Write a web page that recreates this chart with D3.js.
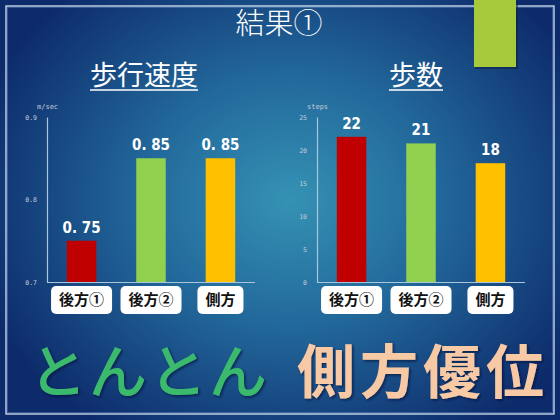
<!DOCTYPE html>
<html><head><meta charset="utf-8">
<script src="https://cdn.jsdelivr.net/npm/d3@7"></script>
<style>html,body{margin:0;padding:0;overflow:hidden;background:#0f2e6e}</style>
</head><body>
<svg id="c" width="560" height="420"></svg>
<script>
const categories = ["後方①", "後方②", "側方"];
const speedValues = [0.75, 0.85, 0.85];
const speedLabels = ["0. 75", "0. 85", "0. 85"];
const speedTicks = [0.7, 0.8, 0.9];
const stepValues = [22, 21, 18];
const stepLabels = ["22", "21", "18"];
const stepTicks = [0, 5, 10, 15, 20, 25];
const barColors = ["#c00000", "#92d050", "#ffc000"];

const svg = d3.select("#c");
const defs = svg.append("defs");
const grad = defs.append("radialGradient").attr("id", "bg")
  .attr("gradientUnits", "userSpaceOnUse")
  .attr("cx", 290).attr("cy", 200).attr("r", 330)
  .attr("gradientTransform", "translate(290,200) scale(1,0.85) translate(-290,-200)");
grad.append("stop").attr("offset", "0").attr("stop-color", "#3592b4");
grad.append("stop").attr("offset", "0.45").attr("stop-color", "#22689b");
grad.append("stop").attr("offset", "1").attr("stop-color", "#0d2a6a");
svg.append("rect").attr("width", 560).attr("height", 420).attr("fill", "url(#bg)");

const sh = defs.append("filter").attr("id", "sh").attr("x", "-10%").attr("y", "-10%")
  .attr("width", "130%").attr("height", "130%");
sh.append("feDropShadow").attr("dx", 1.5).attr("dy", 1.5).attr("stdDeviation", 1)
  .attr("flood-color", "#06163a").attr("flood-opacity", 0.7);

// frame
svg.append("rect").attr("x", 6).attr("y", 6).attr("width", 548).attr("height", 408)
  .attr("fill", "none").attr("stroke", "#d6e4f2").attr("stroke-width", 1.3);
svg.append("rect").attr("x", 7.5).attr("y", 7.5).attr("width", 545).attr("height", 405)
  .attr("fill", "none").attr("stroke", "#7fa6d0").attr("stroke-width", 0.6).attr("opacity", 0.6);

// green accent
svg.append("rect").attr("x", 475).attr("y", 1).attr("width", 43).attr("height", 68)
  .attr("fill", "#0a1e40").attr("opacity", 0.5);
svg.append("rect").attr("x", 474).attr("y", 0).attr("width", 42).attr("height", 67)
  .attr("fill", "#a6ca3b");

const jp = "'Noto Sans CJK JP', 'Noto Sans', sans-serif";

svg.append("text").attr("x", 279).attr("y", 34).attr("text-anchor", "middle")
  .attr("font-family", jp).attr("font-weight", 300).attr("font-size", 29).attr("fill", "#ffffff").text("結果①");

function subTitle(cx, txt) {
  const t = svg.append("text").attr("x", cx).attr("y", 85).attr("text-anchor", "middle")
    .attr("font-family", jp).attr("font-size", 27).attr("fill", "#ffffff").text(txt);
  const w = t.node().getComputedTextLength();
  svg.append("line").attr("x1", cx - w / 2).attr("x2", cx + w / 2)
    .attr("y1", 90).attr("y2", 90).attr("stroke", "#ffffff").attr("stroke-width", 1.5);
}
subTitle(144, "歩行速度");
subTitle(416, "歩数");

function chart(x0, x1, yDomain, ticks, unit, values, labels, fmt) {
  const x = d3.scaleBand().domain(categories).range([x0, x1])
    .paddingInner(0.575).paddingOuter(0.285);
  const y = d3.scaleLinear().domain(yDomain).range([282, 117]);
  const g = svg.append("g");
  const ax = g.append("g").attr("transform", `translate(${x0},0)`)
    .call(d3.axisLeft(y).tickValues(ticks).tickSize(0).tickPadding(10).tickFormat(fmt));
  ax.select(".domain").attr("stroke", "#a9c6da").attr("stroke-width", 1.2);
  ax.selectAll("text").attr("fill", "#c4ccd6").attr("font-size", 6.5)
    .attr("font-family", "'DejaVu Sans Mono', monospace");
  g.append("line").attr("x1", x0).attr("x2", x1).attr("y1", 282.5).attr("y2", 282.5)
    .attr("stroke", "#a9c6da").attr("stroke-width", 1.2);
  g.append("text").attr("x", x0 - 10).attr("y", 109).attr("fill", "#c4ccd6")
    .attr("font-size", 7).attr("font-family", "'DejaVu Sans Mono', monospace").text(unit);

  g.selectAll("rect.bar").data(values).join("rect").attr("class", "bar")
    .attr("x", (d, i) => x(categories[i])).attr("width", x.bandwidth())
    .attr("y", d => y(d)).attr("height", d => 282 - y(d))
    .attr("fill", (d, i) => barColors[i]);

  g.selectAll("text.val").data(values).join("text").attr("class", "val")
    .attr("x", (d, i) => x(categories[i]) + x.bandwidth() / 2)
    .attr("y", d => y(d) - 8).attr("text-anchor", "middle")
    .attr("font-family", "'DejaVu Sans Condensed', 'DejaVu Sans', sans-serif").attr("font-weight", "bold")
    .attr("font-size", 15).attr("fill", "#ffffff").text((d, i) => labels[i]);

  categories.forEach((c, i) => {
    const cx = x(c) + x.bandwidth() / 2;
    const lg = g.append("g");
    const r = lg.append("rect").attr("fill", "#ffffff").attr("rx", 5);
    const t = lg.append("text").attr("x", cx).attr("y", 305).attr("text-anchor", "middle")
      .attr("font-family", jp).attr("font-weight", "bold").attr("font-size", 15)
      .attr("fill", "#111111").text(c);
    const w = t.node().getComputedTextLength();
    r.attr("x", cx - w / 2 - 8).attr("width", w + 16).attr("y", 286).attr("height", 28);
  });
}
chart(47, 255, [0.7, 0.9], speedTicks, "m/sec", speedValues, speedLabels, d3.format(".1f"));
chart(317, 525, [0, 25], stepTicks, "steps", stepValues, stepLabels, d3.format("d"));

svg.append("text").attr("x", 29).attr("y", 393)
  .attr("font-family", jp).attr("font-weight", 500).attr("font-size", 58).attr("fill", "#3ab96c")
  .attr("letter-spacing", 2).attr("filter", "url(#sh)").text("とんとん");
svg.append("text").attr("x", 297).attr("y", 393)
  .attr("font-family", jp).attr("font-weight", "bold").attr("font-size", 58).attr("fill", "#f7c9a4")
  .attr("letter-spacing", 5).attr("filter", "url(#sh)").text("側方優位");
</script>
</body></html>
